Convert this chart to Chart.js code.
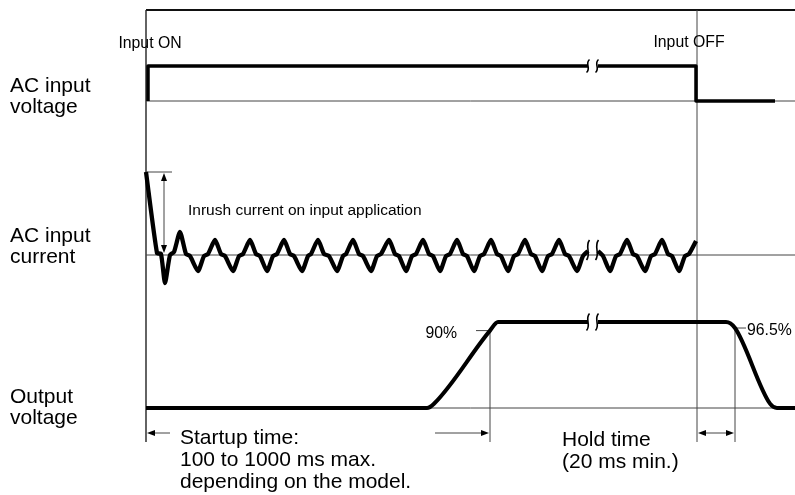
<!DOCTYPE html>
<html>
<head>
<meta charset="utf-8">
<script src="https://cdn.jsdelivr.net/npm/chart.js@4.4.1/dist/chart.umd.min.js"></script>
<style>
  html,body{margin:0;padding:0;background:#fff}
  canvas{display:block}
</style>
</head>
<body>
<canvas id="timing" width="795" height="495"></canvas>
<script>
// time axis in arbitrary units, 0 = input ON
const T_ON = 0, T_OFF = 551, T_END = 649;
const BREAKS = [442, 451];

// AC input voltage (level 0/1)
const voltT   = [2, 2, 442, 446, 452, 550, 550, 629];
const voltLvl = [0, 1, 1, null, 1, 1, 0, 0];

// AC input current (relative amplitude)
const curT = [0, 11, 15, 19, 24, 28, 34, 40, 44, 52, 58, 62, 69, 75, 79, 87, 93, 97, 104,
  110, 114, 121, 127, 131, 138, 144, 148, 156, 162, 165, 172, 178, 183, 191, 197, 200, 207,
  213, 217, 225, 231, 235, 243, 249, 253, 260, 266, 270, 277, 283, 287, 294, 300, 304, 311,
  317, 321, 328, 334, 338, 345, 351, 355, 362, 368, 372, 379, 385, 389, 396, 402, 406, 413,
  419, 423, 431, 437, 442, 446, 452, 457, 464, 470, 474, 481, 487, 491, 499, 505, 509, 516,
  522, 526, 533, 539, 543, 550];
const curAmp = [83, 2, 1, -28, 0, 3, 23, 1, -1, -16, -1, 1, 15, 1, -1, -16, -1, 1, 15,
  1, -1, -16, -1, 1, 15, 1, -1, -16, -1, 1, 15, 1, -1, -16, -1, 1, 15,
  1, -1, -16, -1, 1, 15, 1, -1, -16, -1, 1, 15, 1, -1, -16, -1, 1, 15,
  1, -1, -16, -1, 1, 15, 1, -1, -16, -1, 1, 15, 1, -1, -16, -1, 1, 15,
  1, -1, -16, -1, 4, null, 4, -1, -16, -1, 1, 15, 1, -1, -16, -1, 1, 15,
  1, -1, -16, -1, 1, 14];

// output voltage (% of rated)
const outT   = [0, 281, 288, 344, 352, 442, 446, 452, 580, 589, 624, 631, 649];
const outPct = [0, 0, 5, 90, 100, 100, null, 100, 100, 93, 5, 0, 0];

// marked times
const T_90 = 344, T_965 = 589, T_INRUSH = 18;

// row placement on the page (y scale units, top = 0)
const ROWS = {
  volt: { base: 101, gain: -35 },
  cur:  { base: 255, gain: -1 },
  out:  { base: 408, gain: -0.86 },
  dim:  { base: 433, gain: -1 }
};
const FRAME_TOP = 10, TICK_BOTTOM = 442;
const FONT = '"Liberation Sans", Arial, Helvetica, sans-serif';

function rowY(row, v){ return ROWS[row].base + ROWS[row].gain * v; }

function trace(row, ts, vals, width, curve){
  const ds = {
    data: ts.map((t,i)=>({ x: t, y: vals[i]==null ? null : rowY(row, vals[i]) })),
    borderColor: '#000', borderWidth: width, fill: false, spanGaps: false,
    tension: 0, borderJoinStyle: 'round', borderCapStyle: 'butt', pointRadius: 0
  };
  if (curve === 'monotone') ds.cubicInterpolationMode = 'monotone';
  else if (curve) ds.tension = curve;
  return ds;
}

const diagram = {
  id: 'diagram',
  beforeDatasetsDraw(chart){
    const ctx = chart.ctx, sx = chart.scales.x, sy = chart.scales.y;
    const X = t => sx.getPixelForValue(t), Y = v => sy.getPixelForValue(v);
    const line = (x1,y1,x2,y2,w,c)=>{
      ctx.beginPath(); ctx.moveTo(x1,y1); ctx.lineTo(x2,y2);
      ctx.lineWidth = w; ctx.strokeStyle = c; ctx.stroke();
    };
    ctx.save();
    // frame and time marks
    line(X(T_ON), Y(FRAME_TOP), X(T_END), Y(FRAME_TOP), 2, '#111');
    line(X(T_ON), Y(FRAME_TOP), X(T_ON), Y(TICK_BOTTOM), 1.4, '#222');
    line(X(T_OFF), Y(FRAME_TOP), X(T_OFF), Y(TICK_BOTTOM), 1, '#444');
    // reference levels
    line(X(T_ON), Y(rowY('volt',0)), X(T_END), Y(rowY('volt',0)), 1, '#444');
    line(X(T_ON), Y(rowY('cur',0)), X(T_END), Y(rowY('cur',0)), 1, '#444');
    line(X(T_ON), Y(rowY('out',0)), X(T_END), Y(rowY('out',0)), 1, '#444');
    // 90 % and 96.5 % marks
    line(X(T_90), Y(rowY('out',90)), X(T_90), Y(TICK_BOTTOM), 1, '#444');
    line(X(T_90-14), Y(rowY('out',90)), X(T_90), Y(rowY('out',90)), 1, '#444');
    line(X(T_965), Y(rowY('out',93)), X(T_965), Y(TICK_BOTTOM), 1, '#444');
    line(X(T_965), Y(rowY('out',93)), X(T_965+11), Y(rowY('out',93)), 1, '#444');
    // inrush peak marker
    line(X(T_ON), Y(rowY('cur',83)), X(T_ON+26), Y(rowY('cur',83)), 1, '#444');
    ctx.restore();
  },
  afterDatasetsDraw(chart){
    const ctx = chart.ctx, sx = chart.scales.x, sy = chart.scales.y;
    const X = t => sx.getPixelForValue(t), Y = v => sy.getPixelForValue(v);
    const line = (x1,y1,x2,y2,w,c)=>{
      ctx.beginPath(); ctx.moveTo(x1,y1); ctx.lineTo(x2,y2);
      ctx.lineWidth = w; ctx.strokeStyle = c; ctx.stroke();
    };
    const head = (x,y,dx,dy)=>{ // filled arrow head pointing along (dx,dy)
      ctx.beginPath(); ctx.moveTo(x,y);
      ctx.lineTo(x - dx*8 - dy*3, y - dy*8 - dx*3);
      ctx.lineTo(x - dx*8 + dy*3, y - dy*8 + dx*3);
      ctx.closePath(); ctx.fillStyle = '#000'; ctx.fill();
    };
    const brk = (x,yc,h)=>{
      ctx.beginPath(); ctx.moveTo(x+1.5, yc-h/2);
      ctx.bezierCurveTo(x-3.5, yc-h/6, x+3.5, yc+h/6, x-1.5, yc+h/2);
      ctx.lineWidth = 1.6; ctx.strokeStyle = '#000'; ctx.stroke();
    };
    ctx.save();
    // inrush arrow
    const ix = X(T_INRUSH), iy1 = Y(rowY('cur',82)), iy2 = Y(rowY('cur',2));
    line(ix, iy1+6, ix, iy2-6, 1, '#444');
    head(ix, iy1, 0, -1); head(ix, iy2, 0, 1);
    // startup time
    const dy = Y(rowY('dim',0));
    line(X(T_ON+6), dy, X(T_ON+24), dy, 1, '#444');
    head(X(T_ON+1), dy, -1, 0);
    line(X(289), dy, X(T_90-6), dy, 1, '#444');
    head(X(T_90-1), dy, 1, 0);
    // hold time
    line(X(T_OFF+6), dy, X(T_965-6), dy, 1, '#444');
    head(X(T_OFF+1), dy, -1, 0); head(X(T_965-1), dy, 1, 0);
    // break marks
    BREAKS.forEach(t=>{
      brk(X(t), Y(rowY('volt',1)), 13);
      brk(X(t), Y(rowY('cur',5)), 20);
      brk(X(t), Y(rowY('out',100)), 17);
    });
    // texts
    ctx.fillStyle = '#000'; ctx.textBaseline = 'alphabetic';
    const txt = (s,x,y,size,align)=>{
      ctx.font = size + 'px ' + FONT; ctx.textAlign = align || 'left'; ctx.fillText(s,x,y);
    };
    const lx = X(-136);
    txt('AC input', lx, 92, 21); txt('voltage', lx, 113, 21);
    txt('AC input', lx, 242, 21); txt('current', lx, 263, 21);
    txt('Output', lx, 403, 21); txt('voltage', lx, 424, 21);
    txt('Input ON', X(T_ON+4), 48, 15.8, 'center');
    txt('Input OFF', X(T_OFF-8), 47, 15.8, 'center');
    txt('Inrush current on input application', X(42), 215, 15.5);
    txt('90%', X(T_90-33), 338, 15.8, 'right');
    txt('96.5%', X(T_965+12), 335, 15.8);
    txt('Startup time:', X(34), 444, 21);
    txt('100 to 1000 ms max.', X(34), 466, 21);
    txt('depending on the model.', X(34), 488, 21);
    txt('Hold time', X(416), 446, 21);
    txt('(20 ms min.)', X(416), 468, 21);
    ctx.restore();
  }
};

new Chart(document.getElementById('timing'), {
  type: 'line',
  data: { datasets: [
    trace('volt', voltT, voltLvl, 3.5, 0),
    trace('cur', curT, curAmp, 4.3, 0.2),
    trace('out', outT, outPct, 4, 'monotone')
  ]},
  options: {
    responsive: false, animation: false,
    layout: { padding: 0 },
    plugins: { legend: { display: false }, tooltip: { enabled: false } },
    scales: {
      x: { type: 'linear', min: -146, max: T_END, display: false },
      y: { type: 'linear', min: 0, max: 495, reverse: true, display: false }
    }
  },
  plugins: [diagram]
});
</script>
</body>
</html>
